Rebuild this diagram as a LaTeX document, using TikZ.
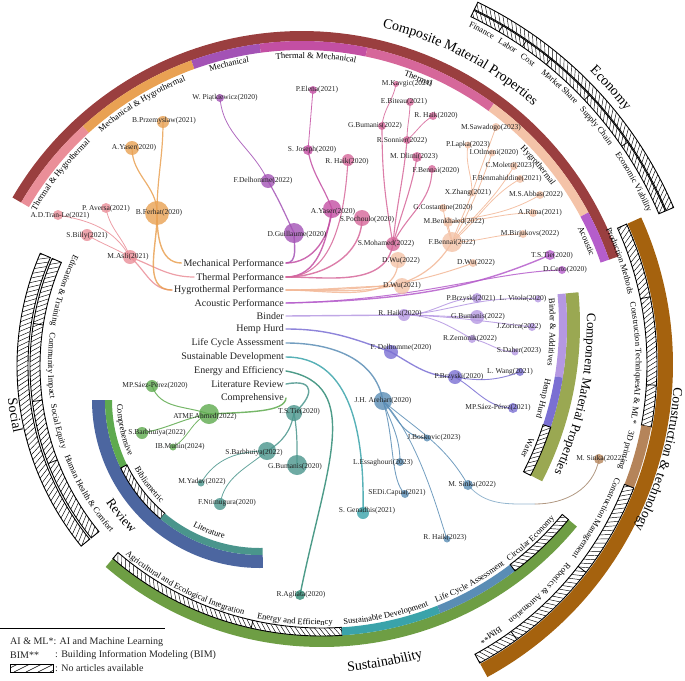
\documentclass[tikz,border=0pt]{standalone}
\usepackage{fontspec}
\setmainfont{Liberation Serif}
\usetikzlibrary{decorations.text}
\pgfdeclarelayer{bg}
\pgfsetlayers{bg,main}
\definecolor{darkred}{HTML}{9A3F3F}
\definecolor{pinkTH}{HTML}{EA8E98}
\definecolor{oranN}{HTML}{E9A153}
\definecolor{purM}{HTML}{A352B5}
\definecolor{magTM}{HTML}{C34FA3}
\definecolor{pinkT}{HTML}{D6679A}
\definecolor{peach}{HTML}{F4C3A8}
\definecolor{peachN}{HTML}{F2B796}
\definecolor{acouP}{HTML}{B55DCB}
\definecolor{brownC}{HTML}{A5620E}
\definecolor{brownL}{HTML}{B5845A}
\definecolor{olive}{HTML}{9AA852}
\definecolor{lav}{HTML}{B598E2}
\definecolor{hempB}{HTML}{7A6FD3}
\definecolor{greenS}{HTML}{6E9E44}
\definecolor{tealSD}{HTML}{3AA3AA}
\definecolor{lcaB}{HTML}{5A8DB5}
\definecolor{blueR}{HTML}{4C66A0}
\definecolor{compG}{HTML}{5EAA4E}
\definecolor{litT}{HTML}{4A958C}
\definecolor{enG}{HTML}{2E8A74}
\definecolor{txt}{HTML}{222222}

\newcommand\bandpath[6]{plot[domain=#5:#6,samples=80] ({#1+#4*cos(\x)},{#2-#4*sin(\x)}) -- plot[domain=#6:#5,samples=80] ({#1+#3*cos(\x)},{#2-#3*sin(\x)}) -- cycle}
\newcommand\rung[5]{\draw[line width=0.8pt] ({#1+#3*cos(#5)},{#2-#3*sin(#5)}) -- ({#1+#4*cos(#5)},{#2-#4*sin(#5)});}
\newcommand\hatchband[6]{%
 \begin{scope}
 \clip \bandpath{#1}{#2}{#3}{#4}{#5}{#6};
 \pgfmathsetmacro\hstep{5/#4*57.2958}%
 \pgfmathtruncatemacro\hN{(#6-#5)/\hstep+4}%
 \foreach \i in {0,...,\hN}{%
   \pgfmathsetmacro\ta{#5+(\i-2)*\hstep}%
   \pgfmathsetmacro\tb{\ta+1.3*\hstep}%
   \draw[line width=0.45pt] ({#1+#3*cos(\ta)},{#2-#3*sin(\ta)}) -- ({#1+#4*cos(\tb)},{#2-#4*sin(\tb)});
 }
 \end{scope}
 \draw[line width=0.9pt] \bandpath{#1}{#2}{#3}{#4}{#5}{#6};
}
\newcommand\cwtext[6]{%
 \pgfmathsetmacro\aA{#4+70}\pgfmathsetmacro\aB{#4-70}%
 \path[decorate,decoration={text along path,text align=center,text={|\fontsize{#5}{#5}\selectfont|#6}}] plot[domain=\aA:\aB,samples=150] ({#1+#3*cos(\x)},{#2-#3*sin(\x)});}
\newcommand\ccwtext[6]{%
 \pgfmathsetmacro\aA{#4-70}\pgfmathsetmacro\aB{#4+70}%
 \path[decorate,decoration={text along path,text align=center,text={|\fontsize{#5}{#5}\selectfont|#6}}] plot[domain=\aA:\aB,samples=150] ({#1+#3*cos(\x)},{#2-#3*sin(\x)});}
\newcommand\paper[8]{\node[pc=#4pt,fill=#5] (#1) at (#2,#3) {};\node[plab] at (#6,#7) {#8};}

\tikzset{
 pc/.style={circle,inner sep=0pt,minimum size=#1,draw=none,fill opacity=0.8},
 plab/.style={font=\fontsize{7.5}{8}\selectfont,text=txt,inner sep=0pt},
 mainlab/.style={font=\fontsize{10}{11}\selectfont,anchor=east,inner xsep=2pt,inner ysep=0pt,text=txt},
 conn/.style={line cap=round,opacity=0.85,line width=#1},
 conn/.default=1.4pt
}

\begin{document}
\begin{tikzpicture}[x=1pt,y=-1pt]
\path[use as bounding box] (0,0) rectangle (685,680);

% ===== Composite Material Properties =====
\fill[darkred] \bandpath{302}{366}{325}{335}{19.1}{149.8};
\fill[pinkTH] \bandpath{302}{366}{316}{325}{132.4}{149.8};
\fill[oranN] \bandpath{302}{366}{316}{325}{109.9}{132.4};
\fill[purM] \bandpath{302}{366}{316}{325}{97.5}{109.9};
\fill[magTM] \bandpath{302}{366}{316}{325}{78.4}{97.5};
\fill[pinkT] \bandpath{302}{366}{316}{325}{53.8}{78.4};
\fill[peach] \bandpath{302}{366}{316}{325}{28.2}{53.8};
\fill[acouP] \bandpath{302}{366}{316}{325}{19.1}{28.2};
\cwtext{302}{366}{308}{141.6}{8.6}{Thermal {\&} Hygrothermal}
\cwtext{302}{366}{308}{121.4}{8.6}{Mechanical {\&} Hygrothermal}
\cwtext{302}{366}{308}{103.6}{8.6}{Mechanical}
\cwtext{302}{366}{308}{87.4}{8.6}{Thermal {\&} Mechanical}
\cwtext{302}{366}{308}{68}{8.6}{Thermal}
\cwtext{302}{366}{308}{40.4}{8.6}{Hygrothermal}
\cwtext{302}{366}{308}{23.7}{8.6}{Acoustic}
\cwtext{302}{366}{348}{62.5}{14}{Composite Material Properties}

% ===== Economy =====
\hatchband{302}{366}{396}{404}{23.1}{64.2}
\hatchband{302}{366}{388}{395}{23.1}{64.2}
\foreach \a in {59.5,55.4,51,43.3,34.5}{\rung{302}{366}{388}{395}{\a}}
\cwtext{302}{366}{378}{61.8}{8.5}{Finance}
\cwtext{302}{366}{378}{57.3}{8.5}{Labor}
\cwtext{302}{366}{378}{53.6}{8.5}{Cost}
\cwtext{302}{366}{378}{47.3}{8.5}{Market Share}
\cwtext{302}{366}{378}{39.2}{8.5}{Supply Chain}
\cwtext{302}{366}{378}{29}{8.5}{Economic Viability}
\cwtext{302}{366}{412}{42}{14}{Economy}

% ===== Construction & technology =====
\fill[brownC] \bandpath{317}{364.5}{341}{356}{-61.4}{24.4};
\hatchband{317}{364.5}{330}{340}{-10.6}{24.4}
\fill[brownL] \bandpath{317}{364.5}{330}{340}{-21.3}{-10.6};
\hatchband{317}{364.5}{330}{340}{-61.4}{-21.3}
\foreach \a in {11.5,-3.5,-37.7,-54}{\rung{317}{364.5}{330}{340}{\a}}
\cwtext{317}{364.5}{319}{18.9}{8.5}{Production Methods}
\cwtext{317}{364.5}{319}{3.5}{8.5}{Construction Techniques}
\cwtext{317}{364.5}{319}{-7.3}{8.5}{AI {\&} ML*}
\cwtext{317}{364.5}{319}{-15.5}{8.5}{3D printing}
\cwtext{317}{364.5}{319}{-28.8}{8.5}{Construction Management}
\cwtext{317}{364.5}{319}{-45.8}{8.5}{Robotics {\&} Automation}
\cwtext{317}{364.5}{319}{-57.3}{8.5}{BIM**}
\cwtext{317}{364.5}{357.5}{-15.5}{13.5}{Construction {\&} technology}

% ===== Component Material Properties =====
\fill[olive] \bandpath{238}{325}{329}{342}{-27.2}{5.5};
\fill[lav] \bandpath{238}{325}{321}{329}{-9.2}{5.5};
\fill[hempB] \bandpath{238}{325}{321}{329}{-18.1}{-9.2};
\hatchband{238}{325}{321}{329}{-27.2}{-18.1}
\cwtext{238}{325}{312}{-1.3}{8.5}{Binder {\&} Additives}
\cwtext{238}{325}{312}{-13.5}{8.5}{Hemp Hurd}
\cwtext{238}{325}{312}{-23}{8.5}{Water}
\cwtext{238}{325}{349}{-11.6}{13}{Component Material Properties}

% ===== Sustainability =====
\fill[greenS] \bandpath{321.5}{316}{320}{331}{229.3}{320.5};
\hatchband{321.5}{316}{312}{320}{229.3}{273.7}
\rung{321.5}{316}{312}{320}{257.3}
\fill[tealSD] \bandpath{321.5}{316}{312}{320}{273.7}{291.8};
\fill[lcaB] \bandpath{321.5}{316}{312}{320}{291.8}{307.2};
\hatchband{321.5}{316}{312}{320}{307.2}{320.5}
\ccwtext{321.5}{316}{309}{243}{8.5}{Agricultural and Ecological Integration}
\ccwtext{321.5}{316}{309}{265}{8.5}{Energy and Efficiency}
\ccwtext{321.5}{316}{309}{282.2}{8.5}{Sustainable Development}
\ccwtext{321.5}{316}{309}{299.1}{8.5}{Life Cycle Assessment}
\ccwtext{321.5}{316}{309}{313.2}{8.5}{Circular Economy}
\ccwtext{321.5}{316}{356}{280.4}{14}{Sustainability}

% ===== Review =====
\fill[blueR] \bandpath{260}{400}{155}{168}{180}{271};
\fill[compG] \bandpath{260}{400}{148}{155}{180}{206};
\hatchband{260}{400}{148}{155}{206}{230}
\fill[litT] \bandpath{260}{400}{148}{155}{230}{271};
\ccwtext{260}{400}{143}{192.4}{8.5}{Comprehensive}
\ccwtext{260}{400}{143}{217.4}{8.5}{Bibliometric}
\ccwtext{260}{400}{143}{248.7}{8.5}{Literature}
\ccwtext{260}{400}{185}{219.8}{13}{Review}

% ===== Social =====
\hatchband{302}{366}{274}{285}{156.7}{219.2}
\hatchband{302}{366}{262}{272}{156.7}{219.2}
\foreach \a in {171,187.5,201}{\rung{302}{366}{262}{272}{\a}}
\ccwtext{302}{366}{254}{162.4}{8.5}{Education {\&} Training}
\ccwtext{302}{366}{254}{180}{8.5}{Community Impact}
\ccwtext{302}{366}{254}{193.9}{8.5}{Social Equity}
\ccwtext{302}{366}{254}{210.9}{8.5}{Human Health {\&} Comfort}
\ccwtext{302}{366}{296}{189.7}{14}{Social}

% ===== central labels =====
\node[mainlab] (mech) at (286,263) {Mechanical Performance};
\node[mainlab] (therm) at (286,277) {Thermal Performance};
\node[mainlab] (hygro) at (286,290) {Hygrothermal Performance};
\node[mainlab] (acou) at (286,303) {Acoustic Performance};
\node[mainlab] (binder) at (286,316) {Binder};
\node[mainlab] (hemp) at (286,329) {Hemp Hurd};
\node[mainlab] (lca) at (286,343) {Life Cycle Assessment};
\node[mainlab] (sdev) at (286,357) {Sustainable Development};
\node[mainlab] (energy) at (286,371) {Energy and Efficiency};
\node[mainlab] (litrev) at (286,384) {Literature Review};
\node[mainlab] (comp) at (286,398) {Comprehensive};

% ===== paper nodes =====
\paper{bprz}{163}{122}{12}{oranN}{164}{121}{B.Przemyslaw(2021)}
\paper{ayaso}{132}{148}{14}{oranN}{134}{148}{A.Yaser(2020)}
\paper{bferhat}{157}{213}{24}{oranN}{159}{213}{B.Ferhat(2020)}
\paper{adtran}{58}{215}{10}{pinkTH}{60}{216}{A.D.Tran-Le(2021)}
\paper{paversa}{106}{208}{10}{pinkTH}{106}{209}{P. Aversa(2021)}
\paper{sbilly}{87}{235}{12}{pinkTH}{87}{236}{S.Billy(2021)}
\paper{masli}{130}{257}{14}{pinkTH}{128}{257}{M.Asli(2021)}
\paper{wpiat}{220}{98}{8}{purM}{225}{98}{W. Piątkiewicz(2020)}
\paper{fdel22}{268}{181}{14}{purM}{263}{181}{F.Delhomme(2022)}
\paper{dguil}{294}{233}{20}{purM}{297}{235}{D.Guillaume(2020)}
\paper{pelena}{313}{90}{8}{magTM}{317}{90}{P.Elena(2021)}
\paper{sjoseph}{308}{150}{10}{magTM}{312}{150}{S. Joseph(2020)}
\paper{ayasm}{332}{209}{18}{magTM}{333}{212}{A.Yaser(2020)}
\paper{spoch}{362}{218}{16}{pinkT}{367}{220}{S.Pochoulo(2020)}
\paper{rhaika}{348}{160}{12}{pinkT}{347}{162}{R. Haik(2020)}
\paper{gbuma}{382}{126}{8}{pinkT}{375}{126}{G.Bumanis(2022)}
\paper{mkav}{396}{84}{6}{pinkT}{407}{84}{M.Kavgic(2021)}
\paper{ebit}{410}{102}{8}{pinkT}{404}{102}{E.Biteau(2021)}
\paper{rhaikb}{433}{116}{8}{pinkT}{436}{116}{R. Haik(2020)}
\paper{rson}{407}{140}{8}{pinkT}{402}{141}{R.Sonnier(2022)}
\paper{mdlimi}{417}{157}{10}{pinkT}{414}{157}{M. Dlimi(2023)}
\paper{fbena}{432}{169}{8}{pinkT}{436}{171}{F.Bennai(2020)}
\paper{smoh}{393}{244}{14}{pinkT}{386}{244}{S.Mohamed(2022)}
\paper{msaw}{496}{127}{8}{peach}{491}{128}{M.Sawadogo(2023)}
\paper{plapka}{468}{145}{7}{peach}{468}{145}{P.Lapka(2023)}
\paper{iotl}{492}{153}{7}{peach}{494}{153}{I.Otlmeni(2020)}
\paper{cmol}{514}{166}{8}{peach}{510}{166}{C.Moletti(2023)}
\paper{fbenm}{520}{179}{8}{peach}{507}{179}{F.Benmahiddine(2021)}
\paper{xzh}{472}{193}{7}{peach}{468}{193}{X.Zhang(2021)}
\paper{msabb}{540}{195}{8}{peach}{536}{195}{M.S.Abbas(2022)}
\paper{arima}{533}{213}{8}{peach}{540}{213}{A.Rima(2021)}
\paper{gcost}{443}{208}{8}{peach}{443}{208}{G.Costantine(2020)}
\paper{mbenk}{448}{222}{10}{peach}{454}{222}{M.Benkhaled(2022)}
\paper{mbirj}{523}{234}{8}{peach}{530}{234}{M.Birjukovs(2022)}
\paper{fbenb}{452}{242}{20}{peach}{452}{243}{F.Bennai(2022)}
\paper{dwua}{398}{260}{16}{peach}{401}{261}{D.Wu(2022)}
\paper{dwub}{473}{263}{8}{peach}{476}{263}{D.Wu(2022)}
\paper{dwuc}{402}{286}{16}{peach}{402}{286}{D.Wu(2021)}
\paper{tstiea}{550}{255}{10}{acouP}{552}{256}{T.S.Tie(2020)}
\paper{dcerro}{562}{270}{8}{acouP}{565}{270}{D.Certo(2020)}
\paper{rhaikc}{404}{315}{12}{lav}{400}{314}{R. Haik(2020)}
\paper{pbrza}{477}{298}{10}{lav}{471}{299}{P.Brzyski(2021)}
\paper{lvit}{538}{299}{7}{lav}{523}{299}{L. Vitola(2020)}
\paper{gbumb}{477}{317}{14}{lav}{478}{317}{G.Bumanis(2022)}
\paper{jzor}{532}{327}{8}{lav}{519}{327}{J.Zorica(2022)}
\paper{rzem}{472}{339}{8}{lav}{470}{339}{R.Zemonik(2022)}
\paper{sdah}{515}{352}{7}{lav}{519}{351}{S.Daher(2023)}
\paper{fdela}{391}{352}{14}{hempB}{401}{348}{F. Delhomme(2020)}
\paper{pbrzb}{455}{377}{14}{hempB}{459}{377}{P.Brzyski(2020)}
\paper{lwang}{520}{372}{8}{hempB}{510}{372}{L. Wang(2021)}
\paper{mpspa}{513}{408}{10}{hempB}{498}{408}{MP.Sáez-Pérez(2021)}
\paper{jha}{383}{401}{18}{lcaB}{383}{401}{J.H. Arehart(2020)}
\paper{jbos}{427}{438}{7}{lcaB}{434}{438}{J.Boskovic(2023)}
\paper{less}{400}{462}{8}{lcaB}{383}{463}{L.Essaghouri(2023)}
\paper{sedi}{405}{494}{8}{lcaB}{397}{493}{SEDi.Capua(2021)}
\paper{msinka}{468}{485}{10}{lcaB}{472}{485}{M. Sinka(2022)}
\paper{rhaikd}{447}{539}{7}{lcaB}{445}{538}{R. Haik(2023)}
\paper{msinkb}{599}{459}{10}{brownL}{600}{459}{M. Sinka(2022)}
\paper{sgen}{363}{513}{12}{tealSD}{367}{511}{S. Genadhis(2021)}
\paper{ragl}{300}{595}{10}{enG}{301}{595}{R.Agliata(2020)}
\paper{tstier}{294}{413}{16}{litT}{299}{412}{T.S.Tie(2020)}
\paper{sbarbt}{267}{451}{18}{litT}{254}{453}{S.Barbhuiya(2022)}
\paper{gbumc}{297}{465}{20}{litT}{295}{467}{G.Bumanis(2020)}
\paper{myad}{201}{483}{7}{litT}{202}{482}{M.Yadav(2022)}
\paper{fnti}{220}{504}{12}{litT}{227}{503}{F.Ntimugura(2020)}
\paper{mpspb}{152}{386}{12}{compG}{155}{386}{MP.Sáez-Pérez(2020)}
\paper{atmf}{209}{414}{20}{compG}{205}{417}{ATMF.Ahmed(2022)}
\paper{sbarbg}{142}{433}{12}{compG}{157}{433}{S.Barbhuiya(2022)}
\paper{ibm}{173}{447}{7}{compG}{180}{447}{IB.Muhin(2024)}
\coordinate (sinkmid) at (535,504);

% ===== connectors =====
\begin{pgfonlayer}{bg}
\draw[conn,purM] (mech.east) to[out=0,in=-90] (dguil.center);
\draw[conn=1.2pt,purM] (dguil.center) to[out=115,in=-60] (fdel22.center);
\draw[conn=0.8pt,purM] (fdel22.center) to[out=115,in=-85] (wpiat.center);
\draw[conn,magTM] (mech.east) to[out=0,in=-95] (ayasm.center);
\draw[conn,magTM] (therm.east) to[out=0,in=-100] (ayasm.center);
\draw[conn=1.2pt,magTM] (ayasm.center) to[out=110,in=-80] (sjoseph.center);
\draw[conn=0.8pt,magTM] (sjoseph.center) to[out=85,in=-95] (pelena.center);
\draw[conn,pinkT] (therm.east) to[out=0,in=-90] (spoch.center);
\draw[conn,pinkT] (therm.east) to[out=0,in=-100] (smoh.center);
\draw[conn=1.1pt,pinkT] (therm.east) .. controls (335,277) and (345,210) .. (rhaika.center);
\draw[conn=1.1pt,pinkT] (smoh.center) to[out=100,in=-90] (gbuma.center);
\draw[conn=1.1pt,pinkT] (smoh.center) to[out=85,in=-95] (rson.center);
\draw[conn=1.1pt,pinkT] (smoh.center) to[out=75,in=-100] (mdlimi.center);
\draw[conn=1.1pt,pinkT] (smoh.center) to[out=65,in=-90] (fbena.center);
\draw[conn=0.8pt,pinkT] (gbuma.center) to[out=85,in=-100] (mkav.center);
\draw[conn=0.8pt,pinkT] (rson.center) to[out=90,in=-90] (ebit.center);
\draw[conn=0.8pt,pinkT] (rson.center) to[out=40,in=-150] (rhaikb.center);
\draw[conn=1.2pt,pinkTH] (masli.center) to[out=-20,in=180] (therm.west);
\draw[conn=1.2pt,pinkTH] (masli.center) to[out=-40,in=180] (hygro.west);
\draw[conn=0.8pt,pinkTH] (masli.center) to[out=150,in=-30] (sbilly.center);
\draw[conn=0.8pt,pinkTH] (masli.center) to[out=120,in=-10] (adtran.center);
\draw[conn=0.8pt,pinkTH] (masli.center) to[out=110,in=-80] (paversa.center);
\draw[conn,oranN] (bferhat.center) to[out=-90,in=180] (mech.west);
\draw[conn,oranN] (bferhat.center) to[out=-88,in=180] (hygro.west);
\draw[conn=1.2pt,oranN] (bferhat.center) to[out=90,in=-90] (ayaso.center);
\draw[conn=1.2pt,oranN] (bferhat.center) to[out=90,in=-90] (bprz.center);
\draw[conn=1.2pt,peachN] (hygro.east) to[out=0,in=-90] (dwua.center);
\draw[conn=1.2pt,peachN] (hygro.east) to[out=0,in=180] (dwuc.center);
\draw[conn=1.2pt,peachN] (hygro.east) to[out=0,in=-120] (fbenb.center);
\draw[conn=1pt,peachN] (hygro.east) to[out=0,in=200] (dwub.center);
\draw[conn=1pt,peachN] (fbenb.center) to[out=95,in=-90] (mbenk.center);
\draw[conn=0.8pt,peachN] (fbenb.center) to[out=110,in=-80] (gcost.center);
\draw[conn=0.8pt,peachN] (fbenb.center) to[out=70,in=-110] (xzh.center);
\draw[conn=0.8pt,peachN] (xzh.center) to[out=90,in=-100] (plapka.center);
\draw[conn=0.8pt,peachN] (xzh.center) to[out=70,in=-110] (msaw.center);
\draw[conn=0.8pt,peachN] (fbenb.center) to[out=60,in=-110] (iotl.center);
\draw[conn=0.8pt,peachN] (fbenb.center) to[out=50,in=-120] (cmol.center);
\draw[conn=0.8pt,peachN] (fbenb.center) to[out=40,in=-150] (fbenm.center);
\draw[conn=0.8pt,peachN] (mbenk.center) to[out=10,in=210] (msabb.center);
\draw[conn=0.8pt,peachN] (mbenk.center) to[out=0,in=180] (arima.center);
\draw[conn=0.8pt,peachN] (fbenb.center) to[out=0,in=180] (mbirj.center);
\draw[conn,acouP] (acou.east) .. controls (420,300) and (480,285) .. (tstiea.center);
\draw[conn=1pt,acouP] (acou.east) .. controls (420,300) and (490,272) .. (dcerro.center);
\draw[conn,lav] (binder.east) -- (rhaikc.center);
\draw[conn=0.9pt,lav] (rhaikc.center) to[out=0,in=180] (pbrza.center);
\draw[conn=0.9pt,lav] (rhaikc.center) .. controls (450,312) and (480,295) .. (lvit.center);
\draw[conn=0.9pt,lav] (rhaikc.center) to[out=0,in=180] (gbumb.center);
\draw[conn=0.9pt,lav] (rhaikc.center) .. controls (450,316) and (490,322) .. (jzor.center);
\draw[conn=0.9pt,lav] (rhaikc.center) to[out=0,in=150] (rzem.center);
\draw[conn=0.9pt,lav] (rzem.center) to[out=-10,in=180] (sdah.center);
\draw[conn,hempB] (hemp.east) to[out=0,in=160] (fdela.center);
\draw[conn=1.3pt,hempB] (fdela.center) to[out=-30,in=180] (pbrzb.center);
\draw[conn=0.9pt,hempB] (pbrzb.center) to[out=-10,in=200] (lwang.center);
\draw[conn=0.9pt,hempB] (pbrzb.center) to[out=-30,in=180] (mpspa.center);
\draw[conn,lcaB] (lca.east) to[out=0,in=100] (jha.center);
\draw[conn=1pt,lcaB] (jha.center) to[out=-50,in=180] (jbos.center);
\draw[conn=0.9pt,lcaB] (jha.center) to[out=-70,in=90] (less.center);
\draw[conn=0.9pt,lcaB] (jha.center) .. controls (395,440) and (390,480) .. (sedi.center);
\draw[conn=0.8pt,lcaB] (jha.center) to[out=-40,in=120] (msinka.center);
\draw[conn=0.8pt,lcaB] (jha.center) .. controls (420,440) and (440,520) .. (rhaikd.center);
\draw[conn=0.8pt,lcaB!75] (msinka.center) to[out=-50,in=180] (sinkmid);
\draw[conn=0.8pt,brownL!80!lcaB] (sinkmid) to[out=0,in=-100] (msinkb.center);
\draw[conn,tealSD] (sdev.east) .. controls (345,357) and (365,420) .. (sgen.center);
\draw[conn,enG] (energy.east) .. controls (365,385) and (325,470) .. (ragl.center);
\draw[conn,litT] (litrev.east) .. controls (318,378) and (312,398) .. (tstier.center);
\draw[conn=1.2pt,litT] (tstier.center) to[out=-100,in=30] (sbarbt.center);
\draw[conn=1.2pt,litT] (tstier.center) to[out=-80,in=90] (gbumc.center);
\draw[conn=0.8pt,litT] (sbarbt.center) to[out=180,in=60] (myad.center);
\draw[conn=0.8pt,litT] (sbarbt.center) to[out=220,in=80] (fnti.center);
\draw[conn,compG] (atmf.center) .. controls (250,412) and (285,412) .. (comp.east);
\draw[conn=1pt,compG] (atmf.center) to[out=160,in=-70] (mpspb.center);
\draw[conn=1pt,compG] (atmf.center) to[out=190,in=10] (sbarbg.center);
\draw[conn=0.8pt,compG] (atmf.center) to[out=200,in=30] (ibm.center);
\end{pgfonlayer}

% ===== legend =====
\draw[line width=0.6pt] (0,628) -- (165,628);
\node[anchor=west,inner sep=0pt,font=\fontsize{10}{11}\selectfont,text=txt] (lg1) at (10,642) {AI \& ML*: AI and Machine Learning};
\node[anchor=west,inner sep=0pt,font=\fontsize{10}{11}\selectfont,text=txt] (lg2) at (10,655) {BIM**};
\node[anchor=west,inner sep=0pt,font=\fontsize{10}{11}\selectfont,text=txt] (lg3) at (55,655) {: Building Information Modeling (BIM)};
\begin{scope}
\clip (10,664) rectangle (53,672);
\foreach \k in {0,...,5}{\draw[line width=0.5pt] ({2+\k*12},672) -- ({18+\k*12},664);}
\end{scope}
\draw[line width=0.8pt] (10,664) rectangle (53,672);
\node[anchor=west,inner sep=0pt,font=\fontsize{10}{11}\selectfont,text=txt] (lg4) at (55,668) {: No articles available};
\end{tikzpicture}
\end{document}
